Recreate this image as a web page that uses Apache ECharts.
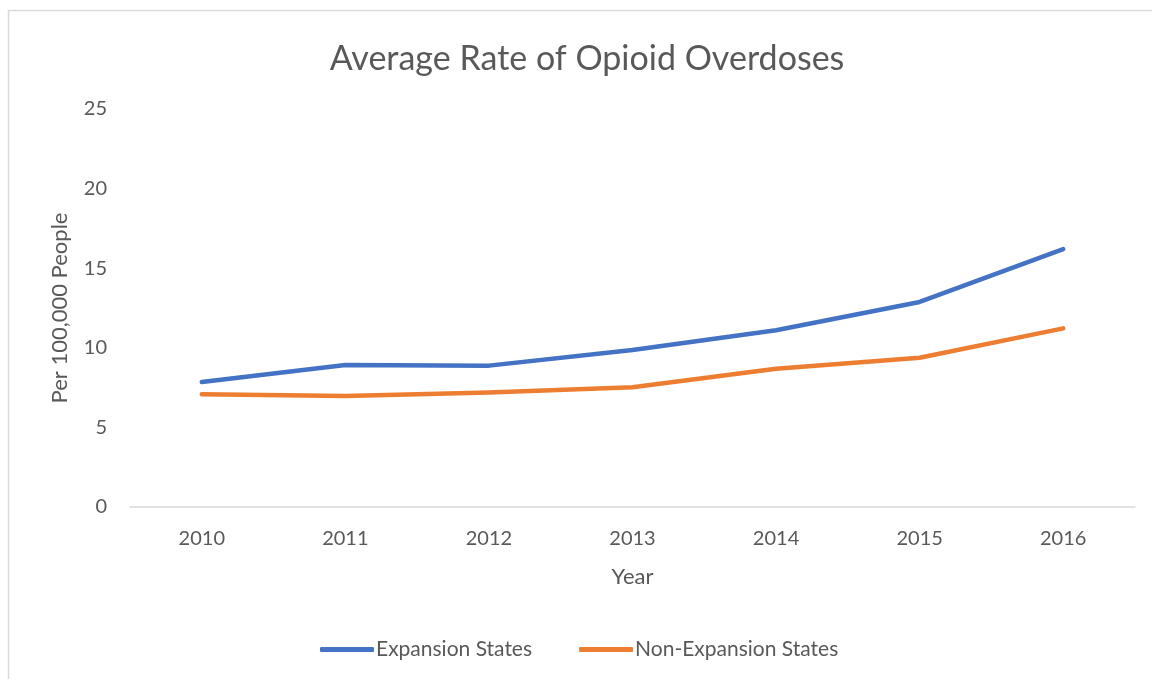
<!DOCTYPE html>
<html>
<head>
<meta charset="utf-8">
<script src="https://cdn.jsdelivr.net/npm/echarts@6/dist/echarts.min.js"></script>
<style>
html,body{margin:0;padding:0;background:#fff;}
#c{width:1152px;height:679px;}
</style>
</head>
<body>
<div id="c"></div>
<script>
var years = ['2010','2011','2012','2013','2014','2015','2016'];
var expansion = [7.85, 8.92, 8.88, 9.86, 11.1, 12.88, 16.2];
var nonExpansion = [7.08, 6.98, 7.2, 7.52, 8.68, 9.38, 11.22];
var seriesNames = ['Expansion States', 'Non-Expansion States'];
var yTicks = {min: 0, max: 25, interval: 5};

var FONT = 'Lato';
var TXT = '#595959';
var chart = echarts.init(document.getElementById('c'));
chart.setOption({
  animation: false,
  textStyle: {fontFamily: FONT},
  graphic: [{
    type: 'rect', silent: true,
    shape: {x: 8.5, y: 10.5, width: 1300, height: 800},
    style: {fill: 'none', stroke: '#d9d9d9', lineWidth: 1.5}
  }],
  title: {
    text: 'Average Rate of Opioid Overdoses',
    left: 582, textAlign: 'center', top: 37,
    textStyle: {fontFamily: FONT, fontSize: 34, fontWeight: 'normal', color: TXT}
  },
  legend: {
    top: 634, left: 315,
    data: seriesNames,
    icon: 'roundRect',
    itemWidth: 54, itemHeight: 5, itemGap: 47,
    textStyle: {fontFamily: FONT, fontSize: 21, color: TXT, padding: [0,0,0,-3]}
  },
  grid: {left: 130, right: 17, top: 109, bottom: 172, containLabel: false},
  xAxis: {
    type: 'category', data: years, boundaryGap: true,
    name: 'Year', nameLocation: 'middle', nameGap: 59,
    nameTextStyle: {fontFamily: FONT, fontSize: 22, color: TXT},
    axisLine: {lineStyle: {color: '#d9d9d9', width: 1.5}},
    axisTick: {show: false},
    axisLabel: {fontFamily: FONT, fontSize: 20, color: TXT, margin: 22}
  },
  yAxis: {
    type: 'value', min: yTicks.min, max: yTicks.max, interval: yTicks.interval,
    name: 'Per 100,000 People', nameLocation: 'middle', nameGap: 59,
    nameTextStyle: {fontFamily: FONT, fontSize: 22, color: TXT},
    axisLine: {show: false}, axisTick: {show: false},
    splitLine: {show: false},
    axisLabel: {fontFamily: FONT, fontSize: 20, color: TXT, margin: 23}
  },
  series: [{
    name: seriesNames[0], type: 'line', data: expansion,
    symbol: 'none', lineStyle: {color: '#4472C4', width: 4.5, cap: 'round', join: 'round'},
    itemStyle: {color: '#4472C4'}
  }, {
    name: seriesNames[1], type: 'line', data: nonExpansion,
    symbol: 'none', lineStyle: {color: '#ED7D31', width: 4.5, cap: 'round', join: 'round'},
    itemStyle: {color: '#ED7D31'}
  }]
});
</script>
</body>
</html>
